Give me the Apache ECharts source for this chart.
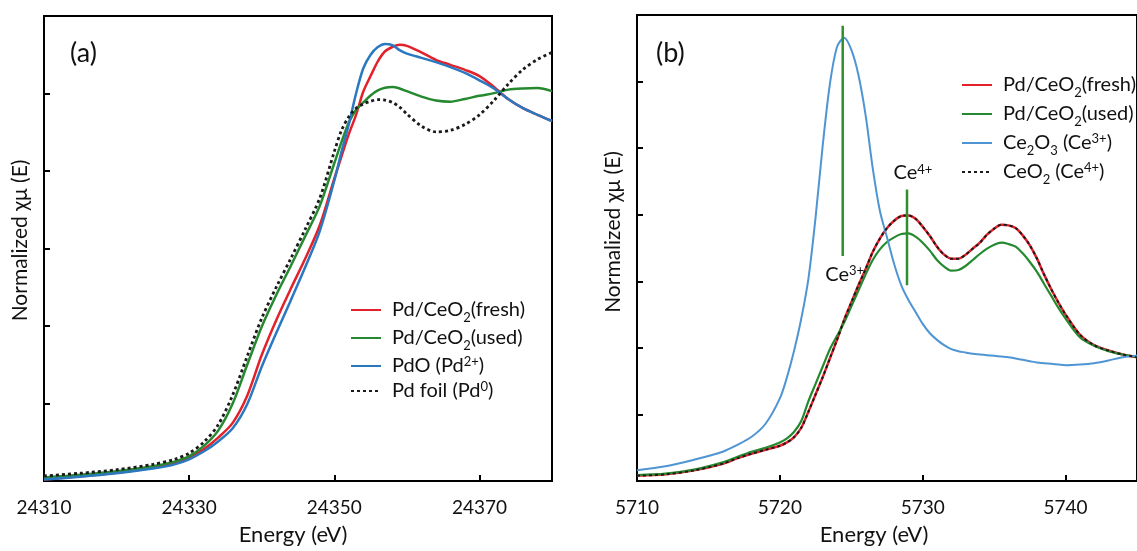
<!DOCTYPE html>
<html>
<head>
<meta charset="utf-8">
<title>Pd K-edge / Ce L3-edge XANES</title>
<script src="https://cdn.jsdelivr.net/npm/echarts@6/dist/echarts.min.js"></script>
<style>
  html, body { margin: 0; padding: 0; background: #fff; overflow: hidden; }
  #chart { width: 1137px; height: 551px; }
</style>
</head>
<body>
<div id="chart"></div>
<script>
// panel (a): Pd K-edge
const energyA = [24310, 24315, 24320, 24325, 24328, 24330, 24332, 24334, 24336, 24338, 24340, 24342, 24344, 24346, 24348, 24350,
  24351, 24352, 24353, 24354, 24355, 24356, 24357, 24358, 24359, 24360, 24362, 24364, 24366, 24368, 24370, 24372, 24374, 24376, 24378, 24380]
const freshA = [0.004, 0.012, 0.021, 0.034, 0.046, 0.060, 0.082, 0.112, 0.150, 0.220, 0.325, 0.415, 0.496, 0.574, 0.660, 0.780,
  0.838, 0.895, 0.945, 1.005, 1.045, 1.083, 1.109, 1.120, 1.126, 1.123, 1.106, 1.087, 1.074, 1.061, 1.045, 1.017, 0.985, 0.962, 0.945, 0.929]
const usedA = [0.009, 0.016, 0.025, 0.038, 0.050, 0.064, 0.090, 0.130, 0.200, 0.300, 0.398, 0.480, 0.555, 0.632, 0.710, 0.820,
  0.875, 0.925, 0.958, 0.977, 0.995, 1.008, 1.015, 1.017, 1.013, 1.006, 0.992, 0.982, 0.979, 0.986, 0.994, 1.001, 1.010, 1.013, 1.014, 1.006]
const pdoA = [0.004, 0.011, 0.020, 0.032, 0.043, 0.056, 0.076, 0.102, 0.136, 0.198, 0.295, 0.382, 0.466, 0.552, 0.645, 0.775,
  0.850, 0.920, 1.000, 1.065, 1.100, 1.120, 1.128, 1.125, 1.112, 1.103, 1.092, 1.081, 1.068, 1.053, 1.034, 1.013, 0.985, 0.962, 0.945, 0.929]
const foilA = [0.013, 0.020, 0.029, 0.043, 0.056, 0.072, 0.100, 0.145, 0.222, 0.322, 0.420, 0.500, 0.574, 0.650, 0.730, 0.850,
  0.905, 0.940, 0.962, 0.973, 0.980, 0.984, 0.983, 0.977, 0.965, 0.947, 0.916, 0.901, 0.905, 0.920, 0.945, 0.982, 1.025, 1.062, 1.088, 1.106]

// panel (b): Ce L3-edge
const energyB = [5710, 5712, 5714, 5716, 5717, 5718, 5719, 5720, 5720.5, 5721, 5721.5, 5722, 5722.5, 5723, 5723.5, 5724, 5724.5,
  5725, 5725.5, 5726, 5726.5, 5727, 5727.5, 5728, 5728.5, 5729, 5729.5, 5730, 5730.5, 5731, 5731.5, 5732, 5732.5, 5733, 5733.5,
  5734, 5734.5, 5735, 5735.5, 5736, 5736.5, 5737, 5737.5, 5738, 5738.5, 5739, 5739.5, 5740, 5741, 5742, 5743, 5744, 5745]
const freshB = [0.04, 0.05, 0.08, 0.13, 0.17, 0.205, 0.235, 0.265, 0.29, 0.33, 0.40, 0.52, 0.65, 0.78, 0.92, 1.06, 1.21,
  1.34, 1.47, 1.59, 1.72, 1.82, 1.90, 1.955, 1.99, 1.995, 1.97, 1.91, 1.84, 1.76, 1.70, 1.67, 1.67, 1.70, 1.745,
  1.79, 1.85, 1.895, 1.925, 1.92, 1.90, 1.845, 1.77, 1.67, 1.55, 1.44, 1.34, 1.25, 1.10, 1.02, 0.98, 0.95, 0.93]
const usedB = [0.045, 0.055, 0.085, 0.14, 0.18, 0.22, 0.25, 0.29, 0.32, 0.37, 0.45, 0.60, 0.73, 0.86, 0.99, 1.09, 1.19,
  1.31, 1.43, 1.55, 1.66, 1.74, 1.795, 1.83, 1.855, 1.86, 1.835, 1.79, 1.73, 1.66, 1.61, 1.58, 1.585, 1.615, 1.66,
  1.705, 1.745, 1.775, 1.79, 1.78, 1.76, 1.71, 1.645, 1.57, 1.48, 1.39, 1.30, 1.22, 1.08, 1.015, 0.975, 0.95, 0.93]
const ce2o3B = [0.08, 0.11, 0.16, 0.22, 0.27, 0.33, 0.43, 0.62, 0.78, 0.98, 1.22, 1.52, 1.98, 2.52, 2.98, 3.26, 3.33,
  3.24, 3.05, 2.75, 2.35, 2.03, 1.83, 1.63, 1.47, 1.36, 1.27, 1.18, 1.11, 1.06, 1.02, 0.99, 0.975, 0.965, 0.955,
  0.95, 0.945, 0.94, 0.935, 0.93, 0.92, 0.91, 0.90, 0.89, 0.885, 0.88, 0.875, 0.87, 0.875, 0.885, 0.905, 0.93, 0.94]
const ceo2B = [0.04, 0.05, 0.08, 0.13, 0.17, 0.205, 0.235, 0.265, 0.29, 0.33, 0.40, 0.52, 0.65, 0.78, 0.92, 1.06, 1.21,
  1.34, 1.47, 1.59, 1.72, 1.82, 1.90, 1.955, 1.99, 1.995, 1.97, 1.91, 1.84, 1.76, 1.70, 1.67, 1.67, 1.70, 1.745,
  1.79, 1.85, 1.895, 1.925, 1.92, 1.90, 1.845, 1.77, 1.67, 1.55, 1.44, 1.34, 1.25, 1.10, 1.02, 0.98, 0.95, 0.93]

// vertical guide lines: [energy, y bottom, y top]
const ce3Mark = [5724.4, 1.69, 3.42]
const ce4Mark = [5728.9, 1.47, 2.19]

const FONT = 'Lato, "Noto Sans", sans-serif'
const TXT = '#111'
const RED = '#e2212b', GREEN = '#25892f', BLUE_A = '#2a78c0', BLUE_B = '#4f95d3', BLACK = '#1a1a1a'

const pairs = (xs, ys) => xs.map((x, i) => [x, ys[i]])

const supStyle = { fontSize: 13, fontFamily: FONT, color: TXT, verticalAlign: 'top', lineHeight: 14 }
const rich = {
  sub: { fontSize: 13, fontFamily: FONT, color: TXT, verticalAlign: 'bottom', lineHeight: 22, padding: [0, 0, -3, 0] },
  sup: supStyle
}
const legendNames = {
  'Pd/CeO2(fresh)': 'Pd/CeO{sub|2}(fresh)',
  'Pd/CeO2(used)': 'Pd/CeO{sub|2}(used)',
  'PdO (Pd2+)': 'PdO (Pd{sup|2+})',
  'Pd foil (Pd0)': 'Pd foil (Pd{sup|0})',
  'Ce2O3 (Ce3+)': 'Ce{sub|2}O{sub|3} (Ce{sup|3+})',
  'CeO2 (Ce4+)': 'CeO{sub|2} (Ce{sup|4+})'
}

function line(name, xs, ys, color, idx, dotted, width) {
  return {
    name: name, type: 'line', xAxisIndex: idx, yAxisIndex: idx,
    data: pairs(xs, ys), showSymbol: false, symbol: 'none', smooth: 0.3,
    lineStyle: { color: color, width: width, type: dotted ? [3, 3] : 'solid' },
    itemStyle: { color: color }, z: dotted ? 5 : 3
  }
}

function mark(m, labelText, pos, offset) {
  const lab = { show: true, position: pos, distance: 6, offset: offset, formatter: labelText, fontFamily: FONT, fontSize: 20, color: TXT, rich: { sup: supStyle } }
  const pts = [{ value: [m[0], m[1]] }, { value: [m[0], m[2]] }]
  if (pos === 'bottom') pts[0].label = lab
  else pts[1].label = lab
  return {
    type: 'line', xAxisIndex: 1, yAxisIndex: 1, data: pts, symbol: 'circle', showSymbol: true,
    symbolSize: 1, itemStyle: { color: 'rgba(0,0,0,0)' },
    lineStyle: { color: '#2f8f2f', width: 2.5 }, z: 6, silent: true
  }
}

// shift = extra right padding on the axis name, moves it a bit to the left
function xAxis(min, max, interval, gridIndex, shift) {
  return {
    type: 'value', gridIndex: gridIndex, min: min, max: max, interval: interval,
    name: 'Energy (eV)', nameLocation: 'middle', nameGap: 43,
    nameTextStyle: { fontFamily: FONT, fontSize: 22, color: TXT, padding: [0, shift, 0, 0] },
    axisLine: { show: true, lineStyle: { color: '#000', width: 2 } },
    axisTick: { show: true, inside: true, length: 6, lineStyle: { color: '#000', width: 2 } },
    axisLabel: { showMaxLabel: false, margin: 17, fontFamily: FONT, fontSize: 19, color: TXT, formatter: (v) => String(v) },
    splitLine: { show: false }
  }
}

function yAxis(gridIndex, max, interval, shift) {
  return {
    type: 'value', gridIndex: gridIndex, min: 0, max: max, interval: interval,
    name: 'Normalized χμ (E)', nameLocation: 'middle', nameGap: 13,
    nameTextStyle: { fontFamily: FONT, fontSize: 21, color: TXT, padding: [0, 0, 0, shift] },
    axisLine: { show: true, lineStyle: { color: '#000', width: 2 } },
    axisTick: { show: true, inside: true, length: 6, lineStyle: { color: '#000', width: 2 } },
    axisLabel: { show: false },
    splitLine: { show: false }
  }
}

function legend(left, top, gap, names) {
  return {
    left: left, top: top, orient: 'vertical', itemWidth: 30, itemHeight: 14, itemGap: gap,
    data: names, selectedMode: false,
    itemStyle: { opacity: 0 },
    textStyle: { fontFamily: FONT, fontSize: 20, color: TXT, lineHeight: 22, padding: [0, 0, 0, 6], rich: rich },
    formatter: (n) => legendNames[n] || n
  }
}

const chart = echarts.init(document.getElementById('chart'), null, { renderer: 'canvas' })
chart.setOption({
  animation: false,
  backgroundColor: '#fff',
  title: [
    { text: '(a)', left: 65, top: 35, textStyle: { fontFamily: FONT, fontSize: 27, fontWeight: 'normal', color: TXT } },
    { text: '(b)', left: 651, top: 35, textStyle: { fontFamily: FONT, fontSize: 27, fontWeight: 'normal', color: TXT } }
  ],
  grid: [
    { left: 44, top: 16, width: 508, height: 472, show: true, borderColor: '#000', borderWidth: 2 },
    { left: 637, top: 15, width: 508, height: 469, show: true, borderColor: '#000', borderWidth: 2 }
  ],
  xAxis: [xAxis(24310, 24380, 20, 0, 10), xAxis(5710, 5745, 10, 1, 26)],
  yAxis: [yAxis(0, 1.2, 0.2, 16), yAxis(1, 3.5, 0.5, 32)],
  legend: [
    legend(345, 294, 3, ['Pd/CeO2(fresh)', 'Pd/CeO2(used)', 'PdO (Pd2+)', 'Pd foil (Pd0)']),
    legend(956, 69, 4, ['Pd/CeO2(fresh)', 'Pd/CeO2(used)', 'Ce2O3 (Ce3+)', 'CeO2 (Ce4+)'])
  ],
  series: [
    line('Pd/CeO2(fresh)', energyA, freshA, RED, 0, false, 2.5),
    line('Pd/CeO2(used)', energyA, usedA, GREEN, 0, false, 2.5),
    line('PdO (Pd2+)', energyA, pdoA, BLUE_A, 0, false, 2.5),
    line('Pd foil (Pd0)', energyA, foilA, BLACK, 0, true, 2.8),
    line('Pd/CeO2(fresh)', energyB, freshB, RED, 1, false, 2.5),
    line('Pd/CeO2(used)', energyB, usedB, GREEN, 1, false, 2.2),
    line('Ce2O3 (Ce3+)', energyB, ce2o3B, BLUE_B, 1, false, 2),
    line('CeO2 (Ce4+)', energyB, ceo2B, BLACK, 1, true, 2),
    mark(ce3Mark, 'Ce{sup|3+}', 'bottom', [2, 2]),
    mark(ce4Mark, 'Ce{sup|4+}', 'top', [6, 0])
  ]
})
</script>
</body>
</html>
